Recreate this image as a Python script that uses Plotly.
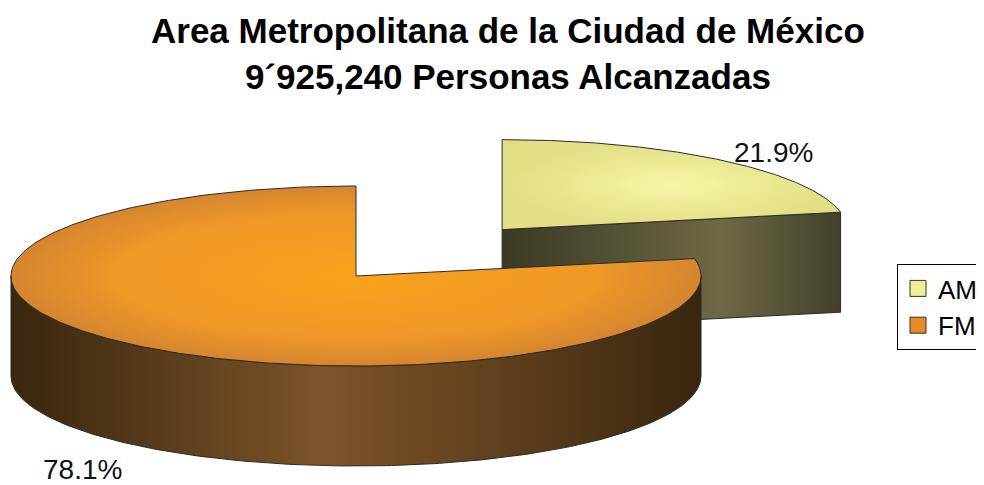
import numpy as np
import plotly.graph_objects as go

# ---- data ----
labels = ["AM", "FM"]
values = [21.9, 78.1]
title_lines = ["Area Metropolitana de la Ciudad de México", "9´925,240 Personas Alcanzadas"]

# ---- style ----
top_scales = {
    "AM": [[0, "#F8F5A6"], [1, "#E2DE84"]],
    "FM": [[0, "#F9A21C"], [0.7, "#EE9828"], [1, "#D5852F"]],
}
side_scales = {
    "AM": [[0, "#3A3923"], [0.65, "#6C6945"], [1, "#42402A"]],
    "FM": [[0, "#38260F"], [0.45, "#7C5428"], [0.75, "#5A3C1B"], [1, "#38260F"]],
}
legend_colors = {"AM": "#F0EE92", "FM": "#E8892A"}
explode = {"AM": 0.667, "FM": 0.0}
cx, cy, rx, ry, depth = 356, 276, 345, 90, 100
edge = dict(color="#2b2b2b", width=1)
PAGE_OFF = 8  # default body margin of the html page

fig = go.Figure()

total = sum(values)
start = 90.0
slices = []
for lab, v in zip(labels, values):
    a0 = start
    a1 = start - 360.0 * v / total
    start = a1
    mid = np.radians((a0 + a1) / 2)
    ox = cx + explode[lab] * rx * np.cos(mid)
    oy = cy - explode[lab] * ry * np.sin(mid)
    slices.append((lab, a1, a0, ox, oy))

def ell(t, ox, oy, dz=0.0):
    return ox + rx * np.cos(t), oy - ry * np.sin(t) + dz

# draw back slices first
for lab, a1, a0, ox, oy in sorted(slices, key=lambda s: s[4]):
    f_lo, f_hi = max(a1, -180.0), min(a0, 0.0)
    if f_hi > f_lo:
        t = np.radians(np.linspace(f_lo, f_hi, 200))
        xt, yt = ell(t, ox, oy)
        xb, yb = ell(t[::-1], ox, oy, depth)
        fig.add_trace(go.Scatter(
            x=np.concatenate([xt, xb, xt[:1]]), y=np.concatenate([yt, yb, yt[:1]]),
            mode="lines", fill="toself", line=edge, showlegend=False, hoverinfo="skip",
            fillgradient=dict(type="horizontal", colorscale=side_scales[lab])))
    for a, vis in ((a1, np.cos(np.radians(a1)) > 1e-6), (a0, np.cos(np.radians(a0)) < -1e-6)):
        if vis:
            px, py = ell(np.radians(a), ox, oy)
            fx = [ox, px, px, ox, ox]
            fy = [oy, py, py + depth, oy + depth, oy]
            fig.add_trace(go.Scatter(
                x=fx, y=fy, mode="lines", fill="toself", line=edge, showlegend=False,
                hoverinfo="skip",
                fillgradient=dict(type="horizontal", colorscale=side_scales[lab])))
    t = np.radians(np.linspace(a1, a0, 300))
    xt, yt = ell(t, ox, oy)
    fig.add_trace(go.Scatter(
        x=np.concatenate([[ox], xt, [ox]]), y=np.concatenate([[oy], yt, [oy]]),
        mode="lines", fill="toself", line=edge, showlegend=False, hoverinfo="skip",
        fillgradient=dict(type="radial", colorscale=top_scales[lab])))

# legend entries
for lab in labels:
    fig.add_trace(go.Scatter(
        x=[None], y=[None], mode="markers", name=lab,
        marker=dict(symbol="square", size=16, color=legend_colors[lab],
                    line=dict(color="#333333", width=1))))

# percentage labels
pct = {lab: f"{v:.1f}%" for lab, v in zip(labels, values)}
label_pos = {"AM": (773, 152), "FM": (82, 469)}
for lab in labels:
    x, y = label_pos[lab]
    fig.add_annotation(x=x, y=y, xref="x", yref="y", text=pct[lab], showarrow=False,
                       font=dict(family="Arial, Liberation Sans", size=28, color="#111111"),
                       xanchor="center", yanchor="middle")

fig.add_annotation(x=508, y=53, xref="x", yref="y",
                   text="<b>" + "</b><br><b>".join(title_lines) + "</b>",
                   showarrow=False,
                   font=dict(family="Arial, Liberation Sans", size=35, color="#000000"),
                   xanchor="center", yanchor="middle")

W, H = 984, 485
fig.update_layout(
    width=W, height=H,
    margin=dict(l=0, r=0, t=0, b=0, autoexpand=False),
    paper_bgcolor="white", plot_bgcolor="white",
    xaxis=dict(range=[PAGE_OFF, W + PAGE_OFF], visible=False, fixedrange=True),
    yaxis=dict(range=[H + PAGE_OFF, PAGE_OFF], visible=False, fixedrange=True),
    showlegend=True,
    legend=dict(x=(897 - PAGE_OFF) / W, y=1 - (264 - PAGE_OFF) / H,
                xanchor="left", yanchor="top",
                bordercolor="#000000", borderwidth=1, bgcolor="white",
                font=dict(family="Arial, Liberation Sans", size=26, color="#000000"),
                itemsizing="trace", tracegroupgap=0),
)

fig.write_html("out.html")
